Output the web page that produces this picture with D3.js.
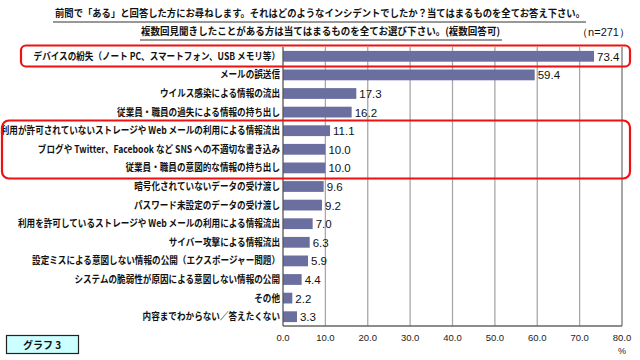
<!DOCTYPE html>
<html><head><meta charset="utf-8">
<script src="https://cdn.jsdelivr.net/npm/d3@7/dist/d3.min.js"></script>
<style>body{margin:0;background:#fff}svg{display:block}</style>
</head><body>
<script>
const categories = [
  "デバイスの紛失（ノート PC、スマートフォン、USB メモリ等）",
  "メールの誤送信",
  "ウイルス感染による情報の流出",
  "従業員・職員の過失による情報の持ち出し",
  "利用が許可されていないストレージや Web メールの利用による情報流出",
  "ブログや Twitter、Facebook など SNS への不適切な書き込み",
  "従業員・職員の意図的な情報の持ち出し",
  "暗号化されていないデータの受け渡し",
  "パスワード未設定のデータの受け渡し",
  "利用を許可しているストレージや Web メールの利用による情報流出",
  "サイバー攻撃による情報流出",
  "設定ミスによる意図しない情報の公開（エクスポージャー問題）",
  "システムの脆弱性が原因による意図しない情報の公開",
  "その他",
  "内容までわからない／答えたくない"
];
const values = [73.4, 59.4, 17.3, 16.2, 11.1, 10.0, 10.0, 9.6, 9.2, 7.0, 6.3, 5.9, 4.4, 2.2, 3.3];
const ticks = [0, 10, 20, 30, 40, 50, 60, 70, 80];
const title1 = "前問で「ある」と回答した方にお尋ねします。それはどのようなインシデントでしたか？当てはまるものを全てお答え下さい。";
const title2 = "複数回見聞きしたことがある方は当てはまるものを全てお選び下さい。(複数回答可)";
const nLabel = "（n=271）";
const graphLabel = "グラフ 3";

const W = 640, H = 360;
const svg = d3.select("body").append("svg").attr("width", W).attr("height", H);
const jp = "'Noto Sans CJK JP', sans-serif";
const latin = "'Liberation Sans', Arial, sans-serif";

const x = d3.scaleLinear().domain([0, 80]).range([283, 622]);
const y = d3.scaleBand().domain(categories).range([47, 326]).paddingInner(0.42).paddingOuter(0.21);

// gridlines
svg.append("g").selectAll("line").data(ticks.slice(1)).join("line")
  .attr("x1", d => x(d)).attr("x2", d => x(d))
  .attr("y1", 47).attr("y2", 326)
  .attr("stroke", d => d === 80 ? "#777" : "#a8a8a8").attr("stroke-width", 1.3);

// bars
svg.append("g").selectAll("rect").data(values).join("rect")
  .attr("x", x(0)).attr("y", (d, i) => y(categories[i]))
  .attr("width", d => x(d) - x(0)).attr("height", y.bandwidth())
  .attr("fill", "#6b6f9f");

// axes lines
svg.append("line").attr("x1", x(0)).attr("x2", x(0)).attr("y1", 47).attr("y2", 326).attr("stroke", "#555").attr("stroke-width", 1.3);
svg.append("line").attr("x1", x(0)).attr("x2", x(80)).attr("y1", 326).attr("y2", 326).attr("stroke", "#666").attr("stroke-width", 1.3);

// value labels
svg.append("g").selectAll("text").data(values).join("text")
  .attr("x", d => x(d) + 3).attr("y", (d, i) => y(categories[i]) + y.bandwidth() / 2 + 4.5)
  .attr("font-family", latin).attr("font-size", 11.5).attr("fill", "#111")
  .text(d => d.toFixed(1));

// category labels
const lab = svg.append("g").selectAll("text").data(categories).join("text")
  .attr("text-anchor", "end")
  .attr("font-family", jp).attr("font-size", 10).attr("font-weight", "bold").attr("fill", "#111")
  .attr("transform", d => `translate(280,${y(d) + y.bandwidth() / 2 + 3.5}) scale(0.86,1)`)
  .text(d => d);

// tick labels
svg.append("g").selectAll("text").data(ticks).join("text")
  .attr("x", d => x(d)).attr("y", 341).attr("text-anchor", "middle")
  .attr("font-family", latin).attr("font-size", 9.5).attr("fill", "#222")
  .text(d => d.toFixed(1));
svg.append("text").attr("x", x(80)).attr("y", 354).attr("text-anchor", "middle")
  .attr("font-family", latin).attr("font-size", 9).attr("fill", "#222").text("%");

// titles
svg.append("text").attr("x", 55).attr("y", 17).attr("textLength", 530).attr("lengthAdjust", "spacingAndGlyphs")
  .attr("font-family", jp).attr("font-size", 10).attr("font-weight", "bold").attr("fill", "#111").text(title1);
svg.append("line").attr("x1", 53).attr("x2", 586).attr("y1", 22).attr("y2", 22).attr("stroke", "#333").attr("stroke-width", 1);
svg.append("text").attr("x", 141).attr("y", 35).attr("textLength", 359).attr("lengthAdjust", "spacingAndGlyphs")
  .attr("font-family", jp).attr("font-size", 10).attr("font-weight", "bold").attr("fill", "#111").text(title2);
svg.append("line").attr("x1", 140).attr("x2", 502).attr("y1", 40).attr("y2", 40).attr("stroke", "#333").attr("stroke-width", 1);
svg.append("text").attr("x", 630).attr("y", 36).attr("text-anchor", "end")
  .attr("font-family", latin).attr("font-size", 11).attr("fill", "#111").text(nLabel);

// red highlight boxes
svg.append("rect").attr("x", 21).attr("y", 45.5).attr("width", 609).attr("height", 21).attr("rx", 5)
  .attr("fill", "none").attr("stroke", "#ee1111").attr("stroke-width", 2.2);
svg.append("rect").attr("x", 2).attr("y", 120.5).attr("width", 628).attr("height", 58).attr("rx", 7)
  .attr("fill", "none").attr("stroke", "#ee1111").attr("stroke-width", 2.2);

// graph label box
svg.append("rect").attr("x", 6.5).attr("y", 335.5).attr("width", 72).attr("height", 18)
  .attr("fill", "#ccffff").attr("stroke", "#222").attr("stroke-width", 1.2);
svg.append("text").attr("x", 42).attr("y", 348.5).attr("text-anchor", "middle")
  .attr("font-family", jp).attr("font-size", 10).attr("font-weight", "bold").attr("fill", "#111").text(graphLabel);
</script>
</body></html>
